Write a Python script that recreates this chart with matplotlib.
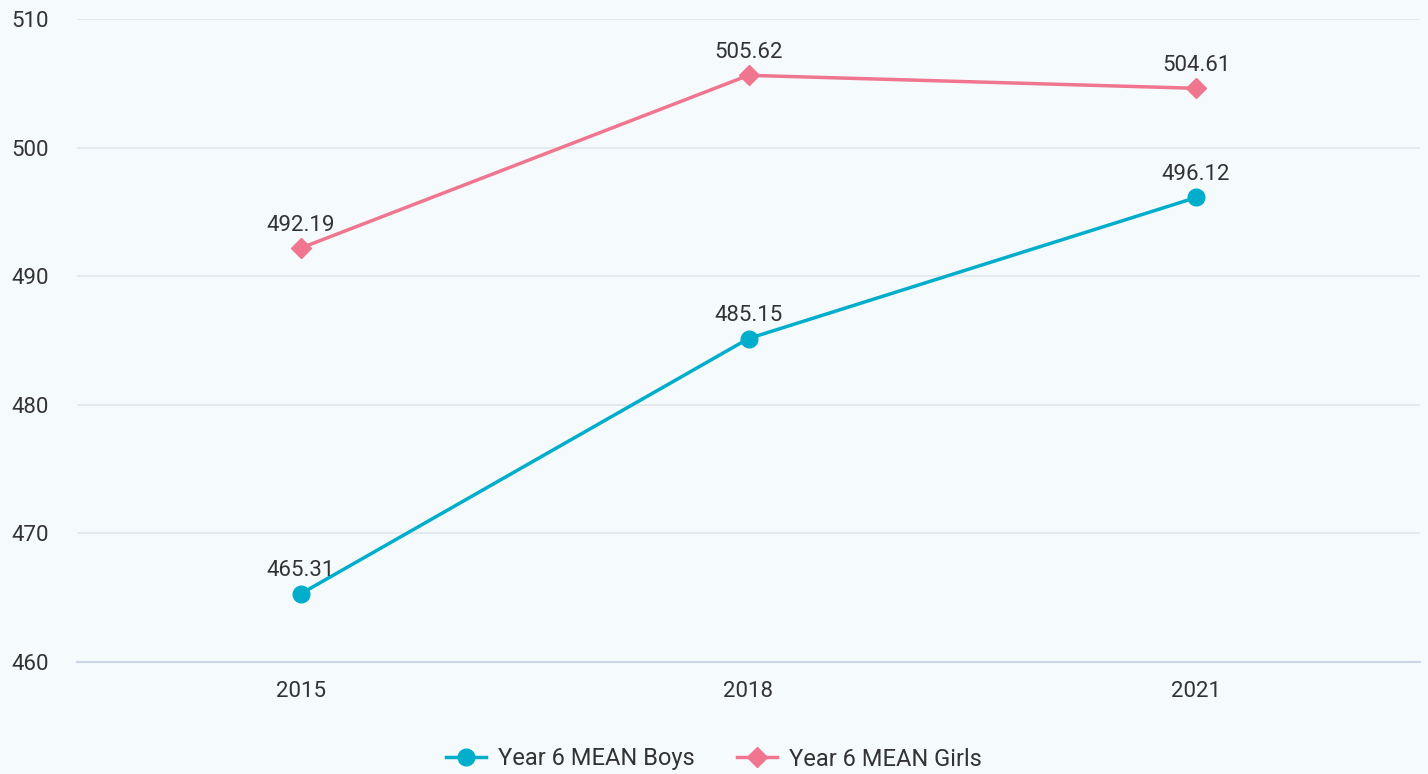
import matplotlib.pyplot as plt
from matplotlib.lines import Line2D

years = ["2015", "2018", "2021"]
boys = [465.31, 485.15, 496.12]
girls = [492.19, 505.62, 504.61]
y_ticks = [460, 470, 480, 490, 500, 510]

plt.rcParams["font.family"] = ["Roboto", "DejaVu Sans"]

bg = "#f5fafd"
boys_color = "#00aecb"
girls_color = "#f0768f"
text_color = "#333333"

fig = plt.figure(figsize=(14.28, 7.74), dpi=100, facecolor=bg)
ax = fig.add_axes([77 / 1428, 1 - 662 / 774, (1420 - 77) / 1428, (662 - 19) / 774])
ax.set_facecolor(bg)

x = list(range(len(years)))
ax.plot(x, boys, color=boys_color, lw=2.5, marker="o", ms=12, zorder=3)
ax.plot(x, girls, color=girls_color, lw=2.5, marker="D", ms=10.5, zorder=3)

for xi, v in zip(x, boys):
    ax.annotate(f"{v:.2f}", (xi, v), xytext=(0, 9), textcoords="offset points",
                ha="center", va="bottom", fontsize=16, color=text_color)
for xi, v in zip(x, girls):
    ax.annotate(f"{v:.2f}", (xi, v), xytext=(0, 9), textcoords="offset points",
                ha="center", va="bottom", fontsize=16, color=text_color)

ax.set_xlim(-0.5, 2.5)
ax.set_ylim(460, 510)
ax.set_yticks(y_ticks)
ax.set_xticks(x)
ax.set_xticklabels(years)
ax.grid(axis="y", color="#e2e6ea", lw=1.2)
ax.set_axisbelow(True)

for side in ["top", "right", "left"]:
    ax.spines[side].set_visible(False)
ax.spines["bottom"].set_color("#ccd6eb")
ax.spines["bottom"].set_linewidth(1.5)

ax.tick_params(axis="both", length=0, labelsize=16, colors=text_color)
ax.tick_params(axis="x", pad=14)
ax.tick_params(axis="y", pad=0)
for lab in ax.get_yticklabels():
    lab.set_horizontalalignment("left")
    lab.set_x(-66 / 1343)

handles = [
    Line2D([], [], color=boys_color, lw=2.5, marker="o", ms=12),
    Line2D([], [], color=girls_color, lw=2.5, marker="D", ms=10.5),
]
fig.legend(handles, ["Year 6 MEAN Boys", "Year 6 MEAN Girls"], loc="center",
           bbox_to_anchor=(0.5, 1 - 759 / 774), ncol=2, frameon=False,
           fontsize=17, handlelength=1.7, columnspacing=1.8, handletextpad=0.5,
           labelcolor=text_color)

fig.savefig("out.png", dpi=100, facecolor=bg)
